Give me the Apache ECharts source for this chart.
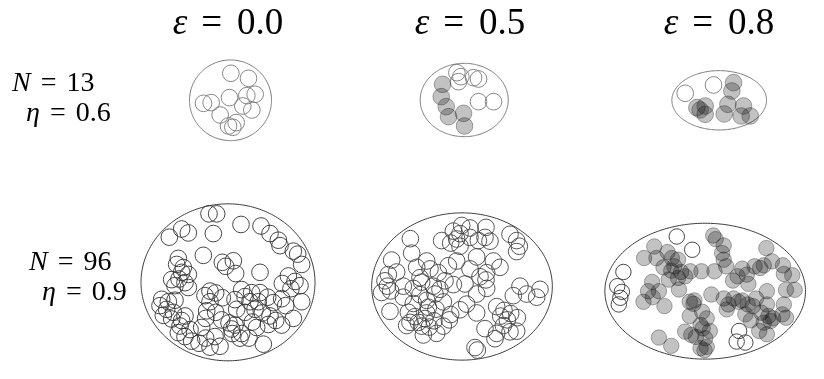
<!DOCTYPE html>
<html>
<head>
<meta charset="utf-8">
<script src="https://cdn.jsdelivr.net/npm/echarts@6/dist/echarts.min.js"></script>
<style>
  html, body { margin: 0; padding: 0; background: #fff; }
  #chart { width: 824px; height: 379px; }
</style>
</head>
<body>
<div id="chart"></div>
<script>
// Column and row parameters
const epsValues = ['0.0', '0.5', '0.8'];
const nValues = ['13', '96'];
const etaValues = ['0.6', '0.9'];

// Disk radius and container semi-axes, in local units (origin at container centre, y down)
const diskRadius = 25;
const semiAxes = [
  [123, 121], [132, 110], [142, 89],
  [261, 259], [271, 234], [325, 205]
];

// N = 13, eps = 0.0
const p1Open = [[1,-81],[54,-66],[-81,9],[-58,7],[-3,-8],[49,-14],[74,-18],[37,17],[64,29],[-31,44],[-6,77],[17,67],[7,81]];
const p1Filled = [];

// N = 13, eps = 0.5
const p2Open = [[43,5],[88,5],[-22,-82],[-10,-70],[-17,-55],[28,-67],[43,-63]];
const p2Filled = [[-65,-47],[-69,-10],[-54,20],[-47,50],[-2,40],[1,78]];

// N = 13, eps = 0.8
const p3Open = [[-102,-21],[-17,-46]];
const p3Filled = [[43,-53],[38,-28],[-67,22],[-42,17],[-42,42],[15,41],[26,12],[73,17],[66,47],[93,47],[-57,29]];

// N = 96, eps = 0.0
const p4Open = [
  [-57,-226],[-34,-226],[39,-191],[99,-186],[-139,-176],[-119,-163],[-176,-149],[-44,-161],
  [126,-161],[151,-139],[156,-121],[196,-103],[209,-93],[-74,-89],[-149,-79],[-17,-66],
  [16,-71],[-7,-53],[221,-59],[-154,-59],[-134,-49],[-139,-33],[23,-29],[96,-33],
  [-119,-26],[181,-21],[-169,-9],[-147,-11],[-129,1],[-159,11],[-119,17],[201,-3],
  [216,11],[189,21],[163,4],[-54,29],[-37,35],[-69,44],[-17,51],[41,24],
  [71,34],[51,47],[96,34],[119,49],[136,67],[21,57],[-199,56],[-179,64],
  [-159,59],[-204,77],[-54,64],[66,64],[91,64],[221,64],[161,54],[173,77],
  [-184,89],[-164,99],[-129,111],[-64,94],[-37,99],[81,89],[103,101],[126,111],
  [51,99],[26,89],[-169,121],[-139,126],[-144,144],[-19,124],[3,134],[21,141],
  [11,154],[196,119],[143,126],[161,141],[121,139],[73,131],[-67,119],[-149,166],
  [-129,179],[-109,194],[-87,201],[-67,184],[-39,179],[-24,211],[-54,214],[41,169],
  [63,184],[106,204],[13,169],[-79,149],[-114,156],[-194,109],[36,184],[86,149]
];
const p4Filled = [];

// N = 96, eps = 0.5
const p5Open = [
  [-1,-194],[-26,-176],[24,-186],[-6,-168],[72,-188],[-16,-151],[-34,-138],[-6,-128],
  [24,-156],[49,-146],[69,-156],[84,-144],[-61,-146],[-155,-152],[-151,-106],[-211,-84],
  [-106,-81],[144,-166],[164,-146],[172,-128],[164,-111],[-16,-81],[44,-94],[94,-81],
  [74,-44],[114,-61],[24,-56],[72,-21],[-96,-56],[-71,-44],[-126,-28],[-221,-38],
  [-196,-46],[-231,-18],[-224,-1],[-241,19],[-214,14],[-121,-14],[-86,-1],[-51,-18],
  [-26,-6],[-66,9],[-81,24],[9,-8],[44,24],[74,6],[174,-1],[234,9],
  [224,34],[154,29],[-176,34],[-126,26],[-106,44],[-146,54],[-101,66],[-78,72],
  [-56,49],[-216,79],[-161,82],[-141,96],[-156,114],[-131,114],[-111,102],[-121,126],
  [-98,129],[-84,109],[-34,89],[-6,74],[44,84],[-38,106],[104,64],[126,76],
  [146,86],[166,99],[116,94],[136,106],[-76,149],[-116,154],[-56,126],[69,134],
  [104,149],[99,166],[144,144],[164,142],[39,194],[46,202],[-146,6],[14,56],
  [-166,124],[54,-31],[-176,-1],[-106,84],[124,124],[-41,-66],[-136,-61],[194,24]
];
const p5Filled = [];

// N = 96, eps = 0.8
const p6Open = [[-92,-165],[-42,-125],[-265,-58],[-285,-15],[-270,2],[-275,20],[-280,40],[110,120],[102,152],[130,155]];
const p6Filled = [
  [26,-168],[34,-157],[60,-138],[55,-115],[60,-95],[68,-75],[198,-130],[-165,-135],
  [-198,-100],[-158,-100],[-122,-118],[-108,-100],[-88,-95],[-135,-72],[-100,-75],[-78,-58],
  [-48,-60],[-12,-60],[30,-60],[-118,-35],[-88,-40],[-65,-45],[-172,-28],[-185,0],
  [-150,0],[-170,18],[-200,32],[-132,45],[-85,-5],[90,-32],[120,-68],[135,-50],
  [160,-75],[178,-70],[190,-78],[216,-90],[252,-78],[255,-52],[282,-48],[290,-4],
  [262,-4],[140,-22],[20,10],[60,22],[75,40],[92,22],[108,32],[120,28],
  [138,40],[155,45],[165,22],[200,0],[200,40],[255,40],[-50,32],[-38,38],
  [-50,75],[-10,62],[5,82],[-15,102],[182,65],[205,75],[220,82],[190,95],
  [212,90],[250,70],[262,80],[148,88],[175,120],[200,130],[-150,140],[-110,165],
  [-65,122],[-45,132],[-30,138],[-8,112],[0,142],[5,168],[-15,172],[-2,178],
  [105,-45],[-110,-62],[-35,28],[130,70],[70,55],[15,120]
];

const openSets = [p1Open, p2Open, p3Open, p4Open, p5Open, p6Open];
const filledSets = [p1Filled, p2Filled, p3Filled, p4Filled, p5Filled, p6Filled];

// Layout: panel centres in pixels, and local units per pixel
const UNITS_PER_PX = 3;
const panelCentres = [
  [230.5, 100.3], [464.2, 100], [719.2, 100.3],
  [228, 292], [462, 292], [714.7, 291.7]
];
const outlineColours = ['#7a7a7a', '#7a7a7a', '#7a7a7a', '#333', '#444', '#333'];
const ellipseColours = ['#7a7a7a', '#7a7a7a', '#7a7a7a', '#3c3c3c', '#3c3c3c', '#3c3c3c'];

const grids = [], xAxes = [], yAxes = [], series = [];

panelCentres.forEach(function (c, i) {
  const a = semiAxes[i][0], b = semiAxes[i][1];
  const hw = a / UNITS_PER_PX + 20, hh = b / UNITS_PER_PX + 20;
  grids.push({ left: c[0] - hw, top: c[1] - hh, width: 2 * hw, height: 2 * hh, containLabel: false });
  xAxes.push({ gridIndex: i, type: 'value', min: -hw * UNITS_PER_PX, max: hw * UNITS_PER_PX, show: false });
  yAxes.push({ gridIndex: i, type: 'value', min: -hh * UNITS_PER_PX, max: hh * UNITS_PER_PX, inverse: true, show: false });

  // container ellipse
  series.push({
    type: 'custom', xAxisIndex: i, yAxisIndex: i, silent: true, clip: false,
    data: [[0, 0, a, b]],
    renderItem: function (params, api) {
      const ax = api.value(2), by = api.value(3);
      const pts = [];
      for (let k = 0; k < 240; k++) {
        const t = k / 240 * Math.PI * 2;
        pts.push(api.coord([ax * Math.cos(t), by * Math.sin(t)]));
      }
      return {
        type: 'polygon', shape: { points: pts },
        style: { fill: 'none', stroke: ellipseColours[i], lineWidth: 1 }
      };
    },
    z: 1
  });

  // open disks
  series.push({
    type: 'custom', xAxisIndex: i, yAxisIndex: i, silent: true, clip: false,
    data: openSets[i],
    encode: { x: 0, y: 1 },
    renderItem: function (params, api) {
      const p = api.coord([api.value(0), api.value(1)]);
      const r = api.size([diskRadius, diskRadius])[0];
      return {
        type: 'circle', shape: { cx: p[0], cy: p[1], r: r },
        style: { fill: 'none', stroke: outlineColours[i], lineWidth: 0.9 }
      };
    },
    z: 2
  });

  // shaded disks
  series.push({
    type: 'custom', xAxisIndex: i, yAxisIndex: i, silent: true, clip: false,
    data: filledSets[i],
    encode: { x: 0, y: 1 },
    renderItem: function (params, api) {
      const p = api.coord([api.value(0), api.value(1)]);
      const r = api.size([diskRadius, diskRadius])[0];
      return {
        type: 'circle', shape: { cx: p[0], cy: p[1], r: r },
        style: { fill: 'rgba(0,0,0,0.24)', stroke: 'rgba(40,40,40,0.55)', lineWidth: 0.7 }
      };
    },
    z: 3
  });
});

const serif = '"Liberation Serif", "DejaVu Serif", serif';
function txt(size, italic, pad) {
  return {
    fontFamily: serif, fontStyle: italic ? 'italic' : 'normal', fontWeight: 'normal',
    fontSize: size, color: '#000', padding: pad || 0
  };
}
const richStyles = {
  i: txt(37, true),
  eq: txt(37, false, [0, 15, 0, 14]),
  n: txt(37, false),
  li: txt(28, true),
  leq: txt(28, false, [0, 10, 0, 10]),
  ln: txt(28, false)
};

const colCentres = [223, 465, 714];
const titles = epsValues.map(function (v, k) {
  return {
    text: '{i|ε}{eq|=}{n|' + v + '}',
    left: colCentres[k], top: 1, textAlign: 'center',
    textStyle: { rich: richStyles, fontWeight: 'normal' }
  };
});
const rowTops = [[65, 95], [244, 274]];
const rowLefts = [[7, 21], [24, 37]];
nValues.forEach(function (n, r) {
  titles.push({ text: '{li|N}{leq|=}{ln|' + n + '}', left: rowLefts[r][0], top: rowTops[r][0], textStyle: { rich: richStyles, fontWeight: 'normal' } });
  titles.push({ text: '{li|η}{leq|=}{ln|' + etaValues[r] + '}', left: rowLefts[r][1], top: rowTops[r][1], textStyle: { rich: richStyles, fontWeight: 'normal' } });
});

const chart = echarts.init(document.getElementById('chart'), null, { renderer: 'canvas' });
chart.setOption({
  animation: false,
  backgroundColor: '#fff',
  title: titles,
  grid: grids,
  xAxis: xAxes,
  yAxis: yAxes,
  series: series
});
</script>
</body>
</html>
